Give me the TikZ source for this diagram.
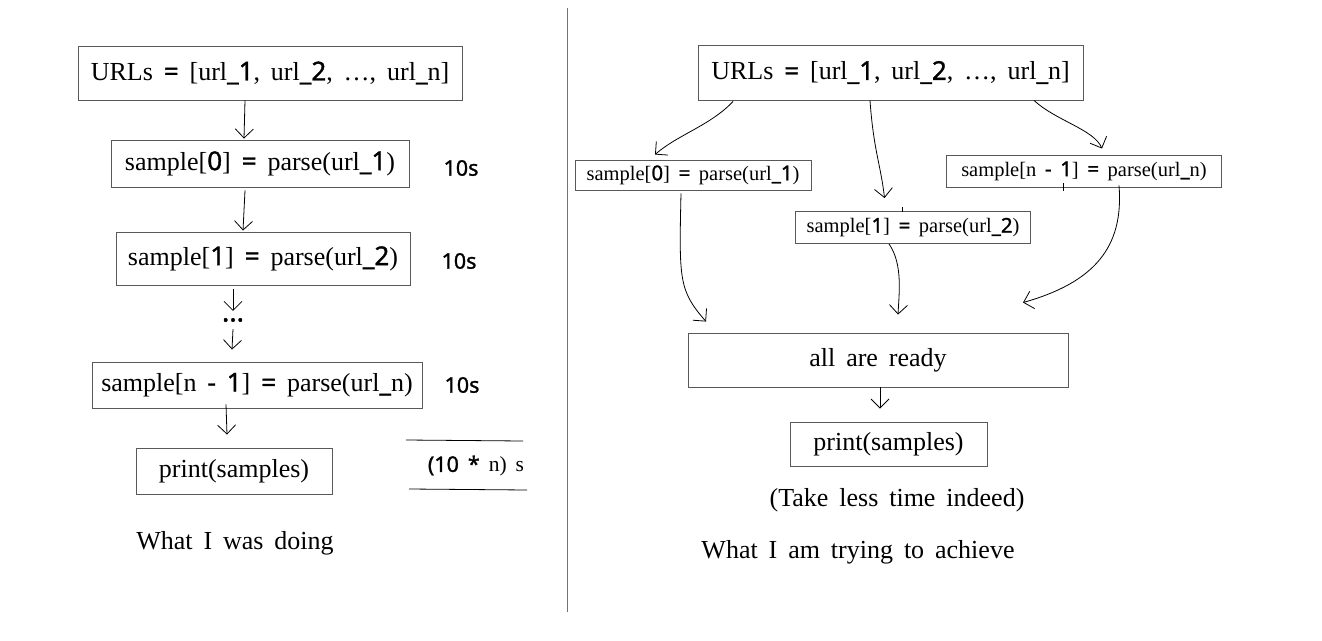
\documentclass[tikz,border=0pt]{standalone}
\usepackage{fontspec}
\setmainfont{Liberation Serif}
\newfontfamily\sansnum{Noto Sans}[FakeBold=1.2]
\newcommand{\sd}[1]{{\sansnum #1}}
\newcommand{\wsp}{\spaceskip=0.42em\relax}
\usetikzlibrary{arrows.meta,calc}
\begin{document}
\begin{tikzpicture}[x=1pt,y=-1pt,
  box/.style={draw=black!65, line width=0.9pt, inner sep=0pt},
  big/.style={font={\fontsize{26}{30}\selectfont\wsp}},
  small/.style={font={\fontsize{20.5}{24}\selectfont\wsp}},
  lab/.style={font={\fontsize{26}{30}\selectfont\wsp}},
  tsec/.style={font={\sansnum\fontsize{21.5}{25}\selectfont\wsp}},
  conn/.style={line width=0.8pt, -{Straight Barb[length=9pt,width=18pt,line width=0.8pt]}},
  plain/.style={line width=0.8pt}]
\useasboundingbox (0,0) rectangle (1322,640);
\fill[white] (0,0) rectangle (1322,640);
% divider
\draw[black!55, line width=0.9pt] (567,8) -- (567,612);

% ---------- left ----------
\node[box,big,minimum width=384pt,minimum height=54pt] (L1) at (270,73) {URLs \sd{=} [url\sd{\_1}, url\sd{\_2}, …, url\sd{\_}n]};
\node[box,big,minimum width=298pt,minimum height=47pt] (L2) at (260,163.5) {sample[\sd{0}] \sd{=} parse(url\sd{\_1})};
\node[box,big,minimum width=294pt,minimum height=53pt] (L3) at (263,258.5) {sample[\sd{1}] \sd{=} parse(url\sd{\_2})};
\node[font={\sansnum\fontsize{28}{30}\selectfont},inner sep=0pt] (dots) at (233,320) {…};
\node[box,big,minimum width=330pt,minimum height=46pt] (L4) at (257,385) {sample[n \sd{-} \sd{1}] \sd{=} parse(url\sd{\_}n)};
\node[box,big,minimum width=196pt,minimum height=46pt] (L5) at (234,471) {print(samples)};
\node[tsec] (t1) at (461,168) {10s};
\node[tsec] (t2) at (459,261) {10s};
\node[tsec] (t3) at (462,385) {10s};
\node[tsec] (tot) at (476,466) {(10 * {\rmfamily n) s}};
\draw[plain] ($(tot.center)+(-70,-26)$) -- ($(tot.center)+(47,-25)$);
\draw[plain] ($(tot.center)+(-67,23)$) -- ($(tot.center)+(51,24)$);
\node[lab] (capL) at (235,543) {What I was doing};

\draw[conn] ($(L1.south)+(-25,0)$) -- ($(L2.north)+(-16,-1)$);
\draw[conn] ($(L2.south)+(-15,3)$) -- ($(L3.north)+(-20,-1)$);
\draw[conn] ($(L3.south)+(-30,4)$) -- ($(dots.north)+(0,-7)$);
\draw[conn] ($(dots.south)+(0,7)$) -- ($(L4.north)+(-25,-12)$);
\draw[conn] ($(L4.south)+(-31,-4)$) -- ($(L5.north)+(-7,-13)$);

% ---------- right ----------
\node[box,big,minimum width=385pt,minimum height=55pt] (R1) at (890.5,72.5) {URLs \sd{=} [url\sd{\_1}, url\sd{\_2}, …, url\sd{\_}n]};
\node[box,small,minimum width=236pt,minimum height=30pt] (R2) at (693,175) {sample[\sd{0}] \sd{=} parse(url\sd{\_1})};
\node[box,small,minimum width=235pt,minimum height=32pt] (R3) at (913,227.5) {sample[\sd{1}] \sd{=} parse(url\sd{\_2})};
\node[box,small,minimum width=275pt,minimum height=32pt] (R4) at (1084,171) {sample[n \sd{-} \sd{1}] \sd{=} parse(url\sd{\_}n)};
\node[box,big,minimum width=380pt,minimum height=54pt] (R5) at (878,360) {all are ready};
\node[box,big,minimum width=197pt,minimum height=44pt] (R6) at (888.5,444) {print(samples)};
\node[lab] (note) at (897,500) {(Take less time indeed)};
\node[lab] (capR) at (858,552) {What I am trying to achieve};

\coordinate (e4) at ($(R5.north)+(-172,-11)$);
\coordinate (e5) at ($(R5.north)+(20,-18)$);
\coordinate (e6) at ($(R5.north)+(145,-30)$);

\draw[conn] ($(R1.south)+(-157.5,1)$) .. controls ($(R1.south)+(-180,25)$) and ($(R2.north)+(-15,-25)$) .. ($(R2.north)+(-38,-5)$);
\draw[conn] ($(R1.south)+(-20.5,0)$) .. controls ($(R1.south)+(-17,50)$) and ($(R3.north)+(-32,-45)$) .. ($(R3.north)+(-28.5,-13)$);
\draw[conn] ($(R1.south)+(143.5,0)$) .. controls ($(R1.south)+(165,20)$) and ($(R4.north)+(10,-25)$) .. ($(R4.north)+(18,-6)$);
\draw[conn] ($(R2.south)+(-12,3)$) .. controls ($(R2.south)+(-14,90)$) and ($(R2.south)+(-14,100)$) .. (e4);
\draw[conn] ($(R3.south)+(-24,0)$) .. controls ($(R3.south)+(-10,20)$) and ($(R3.south)+(-14,50)$) .. (e5);
\draw[conn] ($(R4.south)+(35,-2)$) .. controls ($(R4.south)+(40,60)$) and ($(R4.south)+(10,95)$) .. (e6);
\draw[conn] ($(R5.south)+(2,0)$) -- ($(R6.north)+(-8.5,-13)$);
\draw[plain] ($(R4.south)+(-21,-4)$) -- ($(R4.south)+(-21,4)$);
\draw[plain] ($(R3.north)+(-11,-4)$) -- ($(R3.north)+(-11,1)$);
\end{tikzpicture}
\end{document}
